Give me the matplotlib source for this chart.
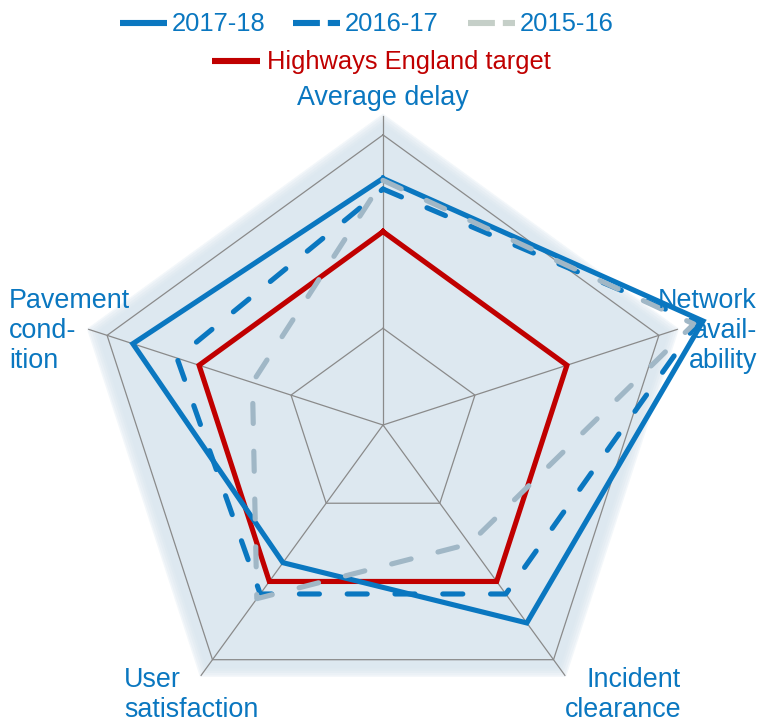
import numpy as np
import matplotlib
matplotlib.use("Agg")
import matplotlib.pyplot as plt
from matplotlib.lines import Line2D

# ---------------- data ----------------
categories = ["Average delay", "Network\navail-\nability", "Incident\nclearance",
              "User\nsatisfaction", "Pavement\ncond-\nition"]
s2017_18 = [2.55, 3.48, 2.53, 1.76, 2.72]
s2016_17 = [2.44, 3.42, 2.16, 2.16, 2.24]
s2015_16 = [2.53, 3.38, 1.52, 2.22, 1.42]
target = [2.0, 2.0, 2.0, 2.0, 2.0]
grid_levels = [1, 2, 3]
r_max = 3.2
legend_labels = ["2017-18", "2016-17", "2015-16", "Highways England target"]

BLUE = "#0a77c0"
RED = "#c00000"
GREY_LINE = "#a0b7c6"
GREY_LEG = "#c5cfc8"
FILL = "#dde8f0"
GRID = "#8a8a8a"

plt.rcParams['font.family'] = ['Liberation Sans', 'DejaVu Sans']

W, H = 760, 724
fig = plt.figure(figsize=(W / 100, H / 100), dpi=100)
ax = fig.add_axes([0, 0, 1, 1])
cx, cy, u = 383, 425, 96.7
ax.set_xlim(-cx / u, (W - cx) / u)
ax.set_ylim(-(H - cy) / u, cy / u)
ax.axis('off')

n = len(categories)
angles = np.deg2rad(90 - 360 / n * np.arange(n))


def xy(vals):
    v = np.asarray(vals, dtype=float)
    x = v * np.cos(angles)
    y = v * np.sin(angles)
    return np.append(x, x[0]), np.append(y, y[0])


# shaded background with soft edge
for rr, col in [(r_max + 0.02, "#f3f7fa"), (r_max, "#ebf1f6"),
                (r_max - 0.03, "#e5edf3"), (r_max - 0.06, "#e0eaf1"),
                (r_max - 0.09, FILL)]:
    px, py = xy([rr] * n)
    ax.fill(px, py, color=col, lw=0, zorder=1)

# grid
for lvl in grid_levels:
    px, py = xy([lvl] * n)
    ax.plot(px, py, color=GRID, lw=0.9, zorder=2)
for a in angles:
    ax.plot([0, r_max * np.cos(a)], [0, r_max * np.sin(a)], color=GRID, lw=0.9, zorder=2)

# series
px, py = xy(target)
ax.plot(px, py, color=RED, lw=3.7, zorder=3, solid_joinstyle='miter')
px, py = xy(s2017_18)
ax.plot(px, py, color=BLUE, lw=3.7, zorder=4, solid_joinstyle='miter')
px, py = xy(s2016_17)
ax.plot(px, py, color=BLUE, lw=3.7, zorder=5, linestyle=(0, (3.9, 5.4)),
        dash_capstyle='round')
px, py = xy(s2015_16)
ax.plot(px, py, color=GREY_LINE, lw=3.7, zorder=6, linestyle=(0, (3.9, 5.4)),
        dash_capstyle='round')

# axis labels
FS = 19.4
def ftext(x, y, s, **kw):
    fig.text(x / W, 1 - y / H, s, color=BLUE, fontsize=FS, linespacing=1.22, **kw)

ftext(383, 98, categories[0], ha='center', va='center')
ftext(757, 331, categories[1], ha='right', va='center', multialignment='right')
ftext(681, 695, categories[2], ha='right', va='center', multialignment='right')
ftext(124, 695, categories[3], ha='left', va='center', multialignment='left')
ftext(9, 331, categories[4], ha='left', va='center', multialignment='left')

# legend (drawn manually)
LFS = 18.4
def leg_line(x0, x1, y, color, ls):
    fig.add_artist(Line2D([x0 / W, x1 / W], [1 - y / H, 1 - y / H], color=color,
                          lw=4.4, linestyle=ls, dash_capstyle='butt',
                          solid_capstyle='butt'))

leg_line(120, 167, 23, BLUE, '-')
fig.text(172 / W, 1 - 24 / H, legend_labels[0], color=BLUE, fontsize=LFS, va='center')
leg_line(293, 340, 23, BLUE, (0, (4.4, 1.3)))
fig.text(345 / W, 1 - 24 / H, legend_labels[1], color=BLUE, fontsize=LFS, va='center')
leg_line(468, 515, 23, GREY_LEG, (0, (4.4, 1.3)))
fig.text(520 / W, 1 - 24 / H, legend_labels[2], color=BLUE, fontsize=LFS, va='center')
leg_line(212, 260, 61, RED, '-')
fig.text(267 / W, 1 - 62 / H, legend_labels[3], color=RED, fontsize=LFS, va='center')

fig.savefig("out.png", dpi=100)
